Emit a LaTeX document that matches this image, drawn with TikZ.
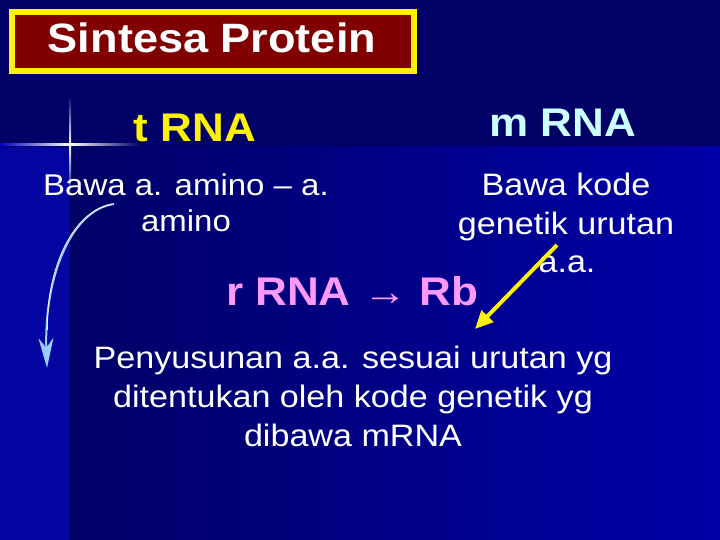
\documentclass[tikz,border=0pt]{standalone}
\usepackage{fontspec}
\setmainfont{Liberation Sans}[FakeStretch=1.1]
\usetikzlibrary{arrows.meta}
\definecolor{navy}{HTML}{000066}
\definecolor{brightblue}{HTML}{0000A8}
\definecolor{stripblue}{HTML}{0404A0}
\definecolor{darkred}{HTML}{800000}
\definecolor{lightcyan}{HTML}{CCFFFF}
\definecolor{pinkish}{HTML}{FF99FF}
\definecolor{skyarrow}{HTML}{99CCFF}
\newcommand\titlef{\bfseries\fontsize{41}{48}\selectfont}
\newcommand\headf{\bfseries\fontsize{40}{48}\selectfont}
\newcommand\bodyf{\fontsize{31}{37}\selectfont}
\newcommand\leftf{\fontsize{30}{36}\selectfont}
\begin{document}
\begin{tikzpicture}[x=1pt,y=-1pt,
  lbl/.style={inner sep=0pt, anchor=base},
  bodytxt/.style={lbl, text=white, font=\bodyf},
  lefttxt/.style={lbl, text=white, font=\leftf},
  headtxt/.style={lbl, font=\headf},
  yarrow/.style={draw=yellow, line width=4pt, -{Triangle[length=18pt,width=16pt]}},
  carrow/.style={draw=skyarrow, line width=2pt, -{Stealth[length=30pt,width=15pt,fill=skyarrow]}},
]
\useasboundingbox (0,0) rectangle (720,540);
% background
\fill[navy] (0,0) rectangle (720,147);
\fill[stripblue] (0,147) rectangle (70,540);
\shade[left color=navy, right color=brightblue] (70,147) rectangle (720,540);
% sparkle
\shade[top color=navy, bottom color=navy, middle color=white] (69,95) rectangle (71,195);
\shade[left color=blue!60!navy, right color=navy, middle color=white] (0,144) rectangle (140,146);
% title box
\draw[draw=yellow, line width=6pt, fill=darkred] (12,11.75) rectangle (413.5,71.5);
\node[lbl, text=white, font=\titlef] (title) at (212,53) {Sintesa Protein};
% headings
\node[headtxt, text=yellow] (trna) at (195,142) {t RNA};
\node[headtxt, text=lightcyan] (mrna) at (563,137) {m RNA};
\node[headtxt, text=pinkish] (rrna) at (352,305) {r RNA {\mdseries →} Rb};
% left text
\node[lefttxt] (tl1) at (186,196) {Bawa a. amino – a.};
\node[lefttxt] (tl2) at (186,232) {amino};
% right text
\node[bodytxt] (ml1) at (566,196) {Bawa kode};
\node[bodytxt] (ml2) at (566,234) {genetik urutan};
\node[bodytxt] (ml3) at (567,272) {a.a.};
% bottom text
\node[bodytxt] (bl1) at (353,368) {Penyusunan a.a. sesuai urutan yg};
\node[bodytxt] (bl2) at (353,407) {ditentukan oleh kode genetik yg};
\node[bodytxt] (bl3) at (353,446) {dibawa mRNA};
% arrows
\coordinate (ya) at (557,245);
\coordinate (yb) at (475,329);
\draw[yarrow] (ya) -- (yb);
\coordinate (c1) at (114,204);
\coordinate (c2) at (47,368);
\draw[carrow] (c1) .. controls (70,210) and (44,280) .. (c2);
\draw[white, line width=0.6pt] (112,204.5) .. controls (72,211) and (46,270) .. (47.5,330);
\end{tikzpicture}
\end{document}
